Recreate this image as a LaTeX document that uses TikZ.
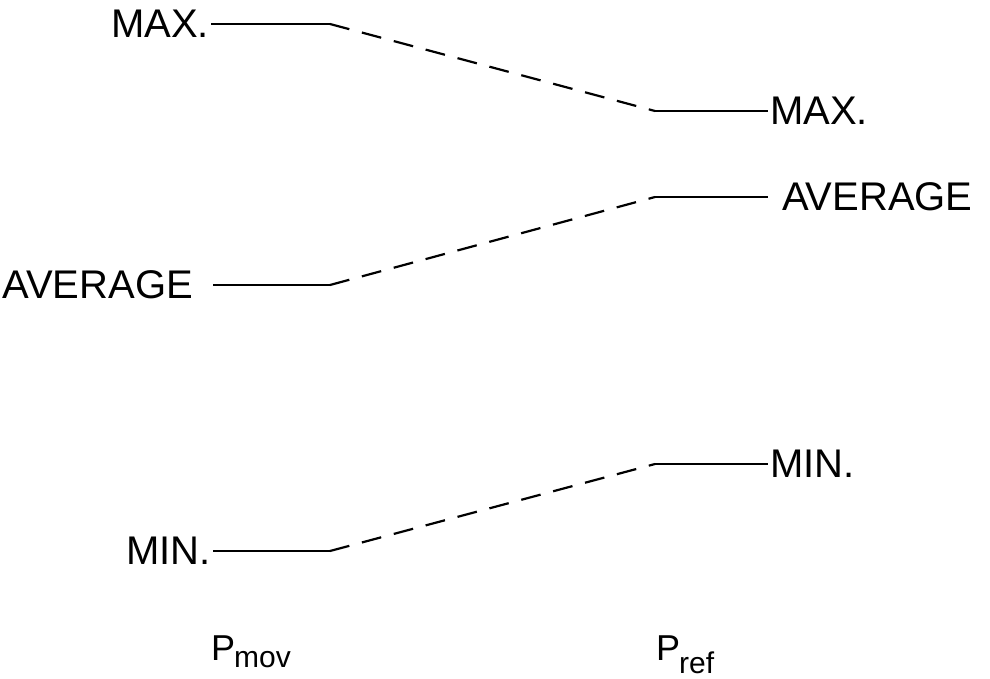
\documentclass[tikz,border=0pt]{standalone}
\usepackage{fontspec}
\setmainfont{Liberation Sans}
\usepackage{tikz}
\usetikzlibrary{positioning, calc}

\begin{document}
\begin{tikzpicture}[x=1pt, y=-1pt,
		lvl/.style={line width=2.2pt},
		conn/.style={line width=2.2pt, dash pattern=on 20pt off 13pt},
		lbl/.style={inner sep=2pt, font=\fontsize{40}{40}\selectfont},
		axl/.style={inner sep=0pt, font=\fontsize{36}{36}\selectfont}]
		
		\useasboundingbox (0,0) rectangle (990,678);
		
		\coordinate (LMaxA) at (211,24);
		\coordinate (LMaxB) at (330,24);
		\coordinate (LAvgA) at (213,285);
		\coordinate (LAvgB) at (330,285);
		\coordinate (LMinA) at (213,551);
		\coordinate (LMinB) at (330,551);
		
		\coordinate (RMaxA) at (655,111);
		\coordinate (RMaxB) at (768,111);
		\coordinate (RAvgA) at (655,197);
		\coordinate (RAvgB) at (768,197);
		\coordinate (RMinA) at (655,464);
		\coordinate (RMinB) at (768,464);
		
		\node[lbl, anchor=east] (LMax) at (LMaxA) {MAX.};
		\node[lbl, anchor=east, left=18pt of LAvgA] (LAvg) {AVERAGE};
		\node[lbl, anchor=east] (LMin) at (LMinA) {MIN.};
		
		\node[lbl, anchor=west] (RMax) at (RMaxB) {MAX.};
		\node[lbl, anchor=west, right=12pt of RAvgB] (RAvg) {AVERAGE};
		\node[lbl, anchor=west] (RMin) at (RMinB) {MIN.};
		
		\draw[lvl] (LMaxA) -- (LMaxB);
		\draw[lvl] (LAvgA) -- (LAvgB);
		\draw[lvl] (LMinA) -- (LMinB);
		\draw[lvl] (RMaxA) -- (RMaxB);
		\draw[lvl] (RAvgA) -- (RAvgB);
		\draw[lvl] (RMinA) -- (RMinB);
		
		\draw[conn] (LMaxB) -- (RMaxA);
		\draw[conn] (LAvgB) -- (RAvgA);
		\draw[conn] (LMinB) -- (RMinA);
		
		\node[axl, anchor=base west] (Pmov) at (211,660) {P\textsubscript{\kern-1pt\fontsize{30}{30}\selectfont mov}};
		\node[axl, anchor=base west] (Pref) at (656,660) {P\textsubscript{\kern-1pt\fontsize{30}{30}\selectfont ref}};
	\end{tikzpicture}
\end{document}
